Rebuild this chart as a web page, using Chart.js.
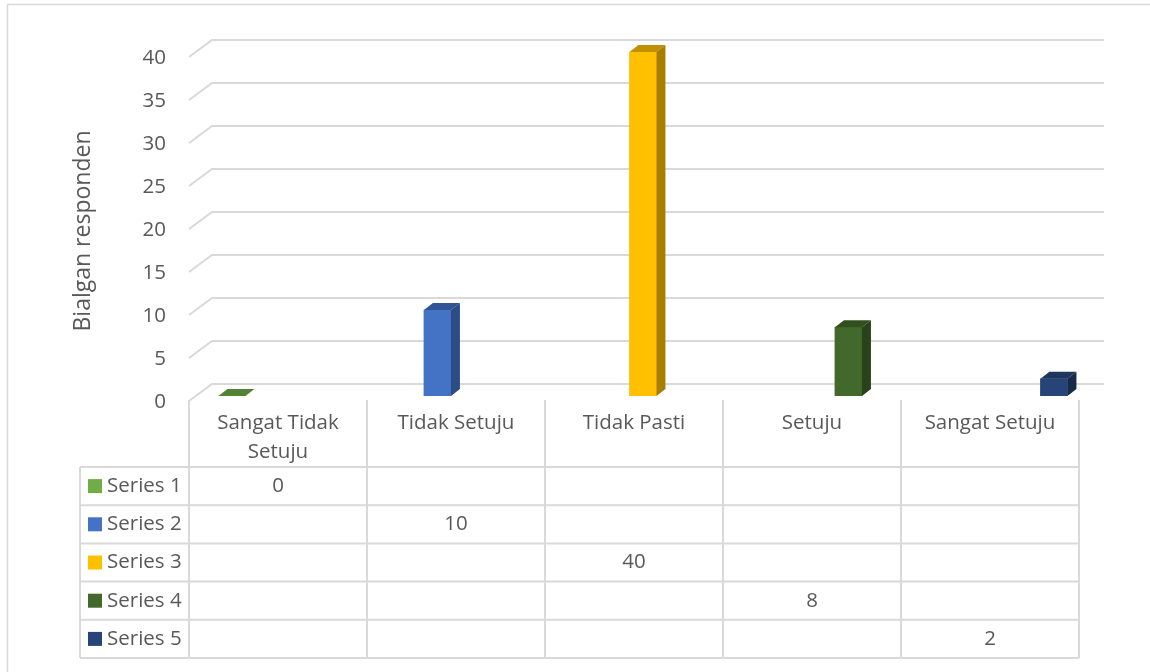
<!DOCTYPE html>
<html>
<head>
<meta charset="utf-8">
<script src="https://cdn.jsdelivr.net/npm/chart.js@4.4.1/dist/chart.umd.min.js"></script>
<style>
  body { margin: 0; background: #fff; }
  #wrap { width: 1150px; height: 672px; }
</style>
</head>
<body>
<div id="wrap"><canvas id="grafico" width="1150" height="672"></canvas></div>
<script>
// ======== DADOS =========
const categories = ['Sangat Tidak Setuju', 'Tidak Setuju', 'Tidak Pasti', 'Setuju', 'Sangat Setuju'];
const seriesNames = ['Series 1', 'Series 2', 'Series 3', 'Series 4', 'Series 5'];
const series1 = [0, null, null, null, null];
const series2 = [null, 10, null, null, null];
const series3 = [null, null, 40, null, null];
const series4 = [null, null, null, 8, null];
const series5 = [null, null, null, null, 2];
const yTicks = [0, 5, 10, 15, 20, 25, 30, 35, 40];
const yTitle = 'Bialgan responden';

const allSeries = [series1, series2, series3, series4, series5];
const colors = ['#70AD47', '#4472C4', '#FFC000', '#43682B', '#264478'];
const topColors = ['#548235', '#2F5597', '#C09000', '#32501F', '#1E365F'];
const sideColors = ['#4A7530', '#2B4C85', '#A87E00', '#2A421B', '#172A4A'];

const FONT = '20.5px "Open Sans", sans-serif';
const TXT = '#595959';
const GRID = '#d9d9d9';
const DX = 9, DY = -7;

// ======== PLUGIN 3D + TABELA =========
const cena3d = {
  id: 'cena3d',
  beforeDatasetsDraw(chart) {
    const c = chart.ctx;
    const y = chart.scales.y;
    const x = chart.scales.x;
    const area = chart.chartArea;
    const half = (area.right - area.left) / categories.length / 2;
    c.save();

    // borda externa
    c.strokeStyle = GRID;
    c.lineWidth = 1.5;
    c.strokeRect(7.5, 4.5, 1200, 700);

    // grade em perspectiva
    c.lineWidth = 2;
    yTicks.forEach(v => {
      const yb = y.getPixelForValue(v) - 12;
      const yf = y.getPixelForValue(v) + 5;
      c.beginPath();
      c.moveTo(area.left, yf);
      c.lineTo(area.left + 23, yb);
      c.lineTo(area.right + 25, yb);
      c.stroke();
    });

    // rótulos do eixo y
    c.fillStyle = TXT;
    c.font = FONT;
    c.textAlign = 'right';
    c.textBaseline = 'middle';
    yTicks.forEach(v => {
      c.fillText(String(v), 166, y.getPixelForValue(v) + 6);
    });

    // título do eixo y
    c.save();
    c.translate(83, 231);
    c.rotate(-Math.PI / 2);
    c.textAlign = 'center';
    c.font = '23px "Open Sans", sans-serif';
    c.fillText(yTitle, 0, 0);
    c.restore();

    // tabela de dados
    const top = y.getPixelForValue(0) + 4;
    const headBottom = 467;
    const rowH = 38.2;
    const tableLeft = 80;
    const tableRight = x.getPixelForValue(categories.length - 1) + half;
    c.strokeStyle = GRID;
    c.lineWidth = 2;
    for (let i = 0; i <= categories.length; i++) {
      const xx = x.getPixelForValue(0) - half + i * half * 2;
      c.beginPath();
      c.moveTo(xx, top);
      c.lineTo(xx, headBottom + rowH * seriesNames.length);
      c.stroke();
    }
    c.beginPath();
    c.moveTo(tableLeft, headBottom);
    c.lineTo(tableLeft, headBottom + rowH * seriesNames.length);
    c.stroke();
    for (let r = 0; r <= seriesNames.length; r++) {
      c.beginPath();
      c.moveTo(tableLeft, headBottom + r * rowH);
      c.lineTo(tableRight, headBottom + r * rowH);
      c.stroke();
    }

    // categorias (com quebra de linha)
    c.textAlign = 'center';
    c.fillStyle = TXT;
    categories.forEach((cat, i) => {
      const words = cat.split(' ');
      const lines = [];
      let cur = '';
      words.forEach(w => {
        const t = cur ? cur + ' ' + w : w;
        if (c.measureText(t).width > half * 2 - 30 && cur) { lines.push(cur); cur = w; }
        else cur = t;
      });
      lines.push(cur);
      lines.forEach((ln, k) => c.fillText(ln, x.getPixelForValue(i), 423 + k * 29));
    });

    // linhas das séries
    seriesNames.forEach((nm, s) => {
      const cy = headBottom + s * rowH + rowH / 2;
      c.fillStyle = colors[s];
      c.fillRect(88, cy - 7, 14, 14);
      c.fillStyle = TXT;
      c.textAlign = 'left';
      c.fillText(nm, 107, cy);
      c.textAlign = 'center';
      allSeries[s].forEach((v, i) => {
        if (v !== null) c.fillText(String(v), x.getPixelForValue(i), cy);
      });
    });
    c.restore();
  },
  afterDatasetsDraw(chart) {
    const c = chart.ctx;
    c.save();
    chart.data.datasets.forEach((ds, s) => {
      chart.getDatasetMeta(s).data.forEach(bar => {
        const p = bar.getProps(['x', 'y', 'base', 'width'], true);
        if (p.y === undefined || isNaN(p.y)) return;
        const l = p.x - p.width / 2, r = p.x + p.width / 2;
        // topo
        c.fillStyle = topColors[s];
        c.beginPath();
        c.moveTo(l, p.y);
        c.lineTo(r, p.y);
        c.lineTo(r + DX, p.y + DY);
        c.lineTo(l + DX, p.y + DY);
        c.closePath();
        c.fill();
        // lateral
        if (p.base - p.y > 0.5) {
          c.fillStyle = sideColors[s];
          c.beginPath();
          c.moveTo(r, p.y);
          c.lineTo(r + DX, p.y + DY);
          c.lineTo(r + DX, p.base + DY);
          c.lineTo(r, p.base);
          c.closePath();
          c.fill();
        }
      });
    });
    c.restore();
  }
};

// ======== GRÁFICO =========
const ctx = document.getElementById('grafico');
new Chart(ctx, {
  type: 'bar',
  data: {
    labels: categories,
    datasets: allSeries.map((arr, s) => ({
      label: seriesNames[s],
      data: arr.map((v, i) => ({ x: i, y: v })).filter(pt => pt.y !== null),
      backgroundColor: colors[s],
      borderWidth: 0,
      barThickness: 27,
      grouped: false,
      xAxisID: 'xb'
    }))
  },
  options: {
    responsive: false,
    animation: false,
    layout: { padding: { left: 189, right: 71, top: 52, bottom: 276 } },
    plugins: {
      legend: { display: false },
      tooltip: { enabled: false }
    },
    scales: {
      x: { type: 'category', display: false, offset: true },
      xb: { type: 'linear', display: false, offset: false, min: -0.209, max: 4.122 },
      y: { display: false, min: 0, max: 40 }
    }
  },
  plugins: [cena3d]
});
</script>
</body>
</html>
